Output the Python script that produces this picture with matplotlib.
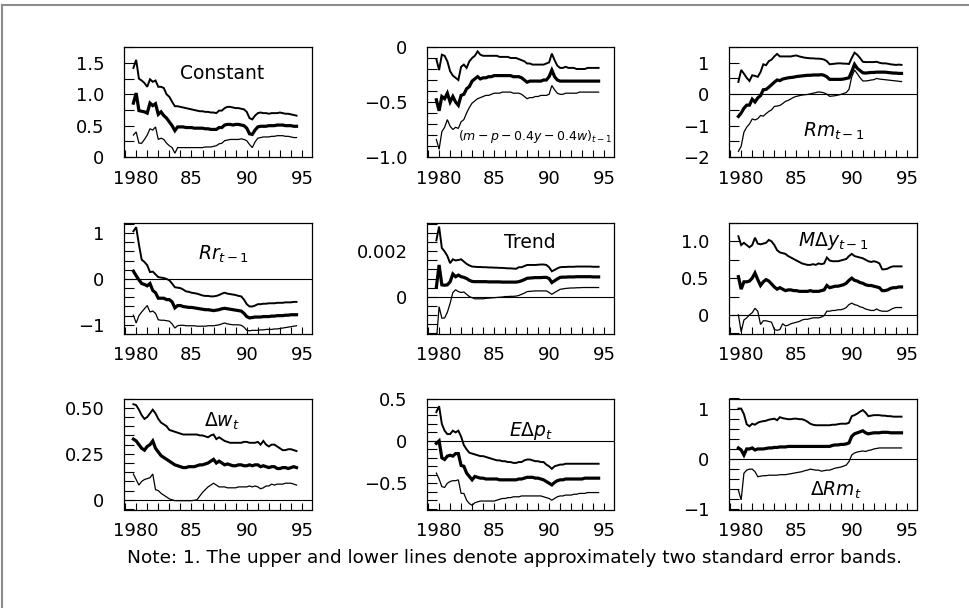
import numpy as np
import matplotlib
matplotlib.use("Agg")
import matplotlib.pyplot as plt
from matplotlib.ticker import MultipleLocator, FixedLocator
from matplotlib.lines import Line2D

plt.rcParams['font.family'] = ['DejaVu Sans']
plt.rcParams['mathtext.fontset'] = 'dejavusans'

# recursive estimates, quarterly 1979.75 .. 1994.5 (60 obs)
quarters = 1979.75 + 0.25 * np.arange(60)

# --- Constant
const_up = [1.42,
    1.55, 1.25, 1.22, 1.18,  1.12, 1.24, 1.20, 1.22,  1.12, 1.12, 1.10, 1.00,  0.96, 0.88, 0.81, 0.81,
    0.80, 0.79, 0.78, 0.77,  0.76, 0.75, 0.74, 0.73,  0.73, 0.72, 0.72, 0.71,  0.71, 0.70, 0.74, 0.74,
    0.78, 0.80, 0.80, 0.79,  0.78, 0.78, 0.77, 0.76,  0.72, 0.62, 0.60, 0.66,  0.70, 0.71, 0.70, 0.70,
    0.69, 0.70, 0.70, 0.70,  0.71, 0.70, 0.69, 0.69,  0.68, 0.67, 0.66]
const_mid = [0.86,
    1.02, 0.74, 0.73, 0.72,  0.70, 0.86, 0.82, 0.85,  0.68, 0.72, 0.66, 0.62,  0.56, 0.50, 0.42, 0.48,
    0.48, 0.48, 0.47, 0.47,  0.47, 0.46, 0.46, 0.46,  0.46, 0.45, 0.45, 0.44,  0.44, 0.44, 0.47, 0.47,
    0.51, 0.52, 0.52, 0.51,  0.52, 0.52, 0.51, 0.50,  0.46, 0.37, 0.36, 0.43,  0.48, 0.49, 0.49, 0.49,
    0.50, 0.50, 0.50, 0.51,  0.51, 0.51, 0.50, 0.50,  0.50, 0.49, 0.49]
const_lo = [0.35,
    0.40, 0.22, 0.22, 0.28,  0.35, 0.45, 0.43, 0.48,  0.28, 0.30, 0.28, 0.22,  0.18, 0.15, 0.06, 0.15,
    0.15, 0.15, 0.15, 0.15,  0.15, 0.15, 0.15, 0.15,  0.15, 0.16, 0.16, 0.16,  0.17, 0.18, 0.21, 0.22,
    0.26, 0.27, 0.28, 0.28,  0.28, 0.28, 0.29, 0.28,  0.26, 0.20, 0.15, 0.24,  0.30, 0.31, 0.32, 0.32,
    0.32, 0.33, 0.33, 0.34,  0.34, 0.34, 0.33, 0.33,  0.32, 0.31, 0.31]

# --- (m - p - 0.4y - 0.4w)_{t-1}
ecm_up = [-0.11,
    -0.21, -0.07, -0.08, -0.13,  -0.22, -0.26, -0.28, -0.30,  -0.18, -0.16, -0.19, -0.13,  -0.10, -0.08, -0.04, -0.07,
    -0.08, -0.08, -0.08, -0.08,  -0.08, -0.08, -0.09, -0.09,  -0.09, -0.09, -0.10, -0.10,  -0.10, -0.11, -0.12, -0.13,
    -0.15, -0.15, -0.16, -0.16,  -0.16, -0.16, -0.16, -0.15,  -0.14, -0.06, -0.12, -0.17,  -0.19, -0.19, -0.18, -0.19,
    -0.19, -0.19, -0.20, -0.20,  -0.20, -0.20, -0.19, -0.19,  -0.19, -0.19, -0.19]
ecm_mid = [-0.48,
    -0.58, -0.45, -0.47, -0.42,  -0.50, -0.45, -0.50, -0.53,  -0.44, -0.43, -0.38, -0.36,  -0.31, -0.29, -0.27, -0.29,
    -0.28, -0.28, -0.27, -0.27,  -0.26, -0.26, -0.26, -0.26,  -0.26, -0.26, -0.26, -0.27,  -0.27, -0.27, -0.28, -0.30,
    -0.32, -0.31, -0.31, -0.31,  -0.31, -0.31, -0.30, -0.30,  -0.27, -0.21, -0.27, -0.30,  -0.31, -0.31, -0.31, -0.31,
    -0.31, -0.31, -0.31, -0.31,  -0.31, -0.31, -0.31, -0.31,  -0.31, -0.31, -0.31]
ecm_lo = [-0.84,
    -0.93, -0.77, -0.73, -0.66,  -0.72, -0.75, -0.73, -0.74,  -0.68, -0.66, -0.60, -0.55,  -0.51, -0.49, -0.47, -0.46,
    -0.45, -0.44, -0.44, -0.43,  -0.42, -0.42, -0.42, -0.41,  -0.41, -0.41, -0.41, -0.42,  -0.42, -0.42, -0.43, -0.45,
    -0.47, -0.46, -0.46, -0.45,  -0.45, -0.44, -0.44, -0.44,  -0.43, -0.35, -0.39, -0.42,  -0.43, -0.43, -0.42, -0.42,
    -0.42, -0.42, -0.42, -0.41,  -0.41, -0.41, -0.41, -0.41,  -0.41, -0.41, -0.41]

# --- Rm_{t-1}
rm_up = [0.39,
    0.77, 0.65, 0.52, 0.42,  0.60, 0.58, 0.55, 0.70,  0.95, 0.92, 1.05, 1.10,  1.20, 1.28, 1.20, 1.20,
    1.20, 1.20, 1.20, 1.22,  1.23, 1.20, 1.18, 1.16,  1.15, 1.14, 1.14, 1.13,  1.13, 1.12, 1.10, 1.05,
    0.95, 0.96, 0.97, 0.98,  0.98, 0.97, 0.97, 0.96,  1.15, 1.32, 1.25, 1.15,  1.03, 1.02, 1.02, 1.02,
    1.02, 1.03, 1.00, 0.98,  0.98, 0.97, 0.95, 0.94,  0.93, 0.94, 0.93]
rm_mid = [-0.71,
    -0.60, -0.45, -0.35, -0.35,  -0.16, -0.25, -0.12, -0.05,  0.14, 0.15, 0.22, 0.30,  0.38, 0.45, 0.43, 0.48,
    0.50, 0.52, 0.53, 0.54,  0.56, 0.57, 0.58, 0.59,  0.60, 0.60, 0.61, 0.61,  0.61, 0.62, 0.60, 0.55,
    0.47, 0.47, 0.47, 0.47,  0.47, 0.48, 0.50, 0.52,  0.72, 0.95, 0.82, 0.75,  0.68, 0.67, 0.68, 0.69,
    0.69, 0.70, 0.70, 0.70,  0.70, 0.69, 0.68, 0.67,  0.67, 0.66, 0.66]
rm_lo = [-1.82,
    -1.66, -1.21, -1.05, -0.95,  -0.79, -0.82, -0.78, -0.68,  -0.70, -0.62, -0.55, -0.50,  -0.39, -0.38, -0.36, -0.30,
    -0.23, -0.20, -0.15, -0.10,  -0.07, -0.05, -0.03, -0.02,  -0.01, 0.01, 0.03, 0.05,  0.07, 0.06, 0.04, 0.00,
    -0.07, -0.06, -0.05, -0.03,  -0.01, 0.02, 0.05, 0.15,  0.55, 0.77, 0.65, 0.52,  0.42, 0.42, 0.43, 0.45,
    0.46, 0.50, 0.48, 0.47,  0.46, 0.45, 0.44, 0.43,  0.42, 0.41, 0.40]

# --- Rr_{t-1}
rr_up = [1.04,
    1.13, 0.75, 0.42, 0.37,  0.30, 0.15, 0.16, 0.10,  0.04, 0.03, 0.02, 0.00,  -0.03, -0.10, -0.18, -0.19,
    -0.20, -0.23, -0.27, -0.28,  -0.30, -0.31, -0.32, -0.34,  -0.36, -0.37, -0.37, -0.38,  -0.38, -0.37, -0.35, -0.32,
    -0.30, -0.32, -0.33, -0.34,  -0.35, -0.37, -0.38, -0.45,  -0.55, -0.60, -0.60, -0.58,  -0.55, -0.55, -0.54, -0.54,
    -0.53, -0.53, -0.53, -0.52,  -0.52, -0.52, -0.51, -0.51,  -0.51, -0.50, -0.50]
rr_mid = [0.17,
    0.07, -0.02, -0.10, -0.12,  -0.15, -0.10, -0.25, -0.30,  -0.42, -0.42, -0.42, -0.45,  -0.45, -0.50, -0.63, -0.58,
    -0.58, -0.60, -0.61, -0.62,  -0.62, -0.63, -0.64, -0.65,  -0.66, -0.67, -0.67, -0.68,  -0.69, -0.68, -0.67, -0.65,
    -0.64, -0.65, -0.66, -0.67,  -0.68, -0.69, -0.70, -0.75,  -0.82, -0.85, -0.84, -0.83,  -0.83, -0.83, -0.82, -0.82,
    -0.82, -0.81, -0.81, -0.80,  -0.80, -0.80, -0.79, -0.79,  -0.78, -0.78, -0.78]
rr_lo = [-0.79,
    -0.96, -0.80, -0.72, -0.65,  -0.58, -0.72, -0.70, -0.75,  -0.89, -0.90, -0.90, -0.91,  -0.92, -0.98, -1.07, -1.02,
    -1.01, -1.01, -1.02, -1.02,  -1.02, -1.02, -1.03, -1.03,  -1.03, -1.03, -1.02, -1.02,  -1.02, -1.01, -1.00, -0.98,
    -0.96, -0.98, -0.99, -1.00,  -1.00, -1.00, -1.01, -1.05,  -1.12, -1.13, -1.12, -1.12,  -1.12, -1.11, -1.11, -1.10,
    -1.10, -1.10, -1.09, -1.09,  -1.08, -1.07, -1.06, -1.05,  -1.04, -1.03, -1.02]

# --- Trend (in units of 0.001)
trend_up = [2.49,
    3.10, 2.15, 2.00, 1.80,  1.48, 1.65, 1.60, 1.62,  1.65, 1.55, 1.45, 1.38,  1.33, 1.32, 1.31, 1.31,
    1.30, 1.30, 1.29, 1.29,  1.28, 1.28, 1.27, 1.27,  1.26, 1.25, 1.25, 1.24,  1.23, 1.30, 1.30, 1.35,
    1.40, 1.40, 1.40, 1.40,  1.41, 1.42, 1.42, 1.40,  1.30, 1.12, 1.18, 1.25,  1.30, 1.31, 1.31, 1.32,
    1.32, 1.32, 1.33, 1.33,  1.33, 1.33, 1.33, 1.33,  1.32, 1.32, 1.32]
trend_mid = [0.41,
    1.40, 0.52, 0.50, 0.52,  0.65, 1.00, 0.88, 0.95,  0.88, 0.85, 0.80, 0.72,  0.67, 0.66, 0.66, 0.66,
    0.66, 0.66, 0.65, 0.65,  0.65, 0.65, 0.65, 0.64,  0.64, 0.64, 0.64, 0.64,  0.64, 0.66, 0.70, 0.75,
    0.81, 0.82, 0.83, 0.84,  0.84, 0.84, 0.85, 0.85,  0.80, 0.62, 0.70, 0.78,  0.85, 0.86, 0.86, 0.87,
    0.87, 0.87, 0.88, 0.88,  0.88, 0.88, 0.88, 0.88,  0.87, 0.87, 0.87]
trend_lo = [-2.00,
    -0.45, -0.96, -0.95, -0.70,  -0.30, 0.18, 0.30, 0.22,  0.18, 0.20, 0.10, 0.00,  -0.05, -0.10, -0.10, -0.10,
    -0.10, -0.08, -0.07, -0.06,  -0.05, -0.04, -0.03, -0.02,  0.00, 0.00, 0.01, 0.01,  0.02, 0.05, 0.10, 0.15,
    0.22, 0.23, 0.24, 0.25,  0.25, 0.25, 0.25, 0.25,  0.18, 0.10, 0.18, 0.25,  0.32, 0.34, 0.36, 0.37,
    0.38, 0.38, 0.39, 0.39,  0.40, 0.40, 0.40, 0.40,  0.40, 0.40, 0.40]

# --- M Delta y_{t-1}
mdy_up = [1.07,
    0.95, 0.98, 0.95, 0.92,  0.95, 1.05, 0.97, 0.96,  0.97, 0.98, 1.02, 1.00,  0.95, 0.88, 0.85, 0.84,
    0.83, 0.80, 0.78, 0.76,  0.74, 0.72, 0.70, 0.69,  0.68, 0.68, 0.69, 0.68,  0.70, 0.69, 0.70, 0.78,
    0.74, 0.73, 0.73, 0.73,  0.74, 0.75, 0.76, 0.80,  0.83, 0.80, 0.79, 0.78,  0.77, 0.75, 0.73, 0.72,
    0.73, 0.72, 0.70, 0.62,  0.62, 0.63, 0.65, 0.66,  0.66, 0.66, 0.66]
mdy_mid = [0.52,
    0.35, 0.45, 0.45, 0.46,  0.50, 0.57, 0.48, 0.40,  0.45, 0.48, 0.46, 0.42,  0.38, 0.35, 0.37, 0.35,
    0.33, 0.34, 0.34, 0.33,  0.33, 0.32, 0.32, 0.32,  0.32, 0.33, 0.32, 0.32,  0.32, 0.33, 0.34, 0.40,
    0.37, 0.38, 0.39, 0.39,  0.40, 0.41, 0.43, 0.47,  0.50, 0.47, 0.46, 0.44,  0.43, 0.41, 0.40, 0.40,
    0.39, 0.38, 0.37, 0.33,  0.33, 0.34, 0.36, 0.37,  0.37, 0.38, 0.38]
mdy_lo = [0.00,
    -0.23, -0.07, -0.04, 0.00,  0.03, 0.09, 0.05, -0.13,  -0.08, -0.08, -0.09, -0.10,  -0.20, -0.21, -0.20, -0.12,
    -0.15, -0.14, -0.12, -0.11,  -0.10, -0.09, -0.07, -0.06,  -0.06, -0.05, -0.04, -0.04,  -0.04, -0.03, -0.01, 0.05,
    0.05, 0.06, 0.06, 0.07,  0.07, 0.08, 0.10, 0.14,  0.16, 0.14, 0.13, 0.11,  0.10, 0.08, 0.07, 0.06,
    0.06, 0.08, 0.06, 0.05,  0.05, 0.05, 0.07, 0.09,  0.10, 0.10, 0.10]

# --- Delta w_t
dw_up = [0.52,
    0.515, 0.49, 0.46, 0.44,  0.45, 0.47, 0.49, 0.47,  0.44, 0.42, 0.41, 0.40,  0.38, 0.375, 0.37, 0.365,
    0.36, 0.355, 0.355, 0.355,  0.355, 0.355, 0.355, 0.35,  0.35, 0.345, 0.34, 0.35,  0.355, 0.33, 0.34, 0.33,
    0.32, 0.315, 0.31, 0.31,  0.31, 0.31, 0.31, 0.315,  0.315, 0.31, 0.31, 0.31,  0.315, 0.30, 0.32, 0.30,
    0.29, 0.30, 0.30, 0.29,  0.28, 0.27, 0.27, 0.275,  0.275, 0.27, 0.265]
dw_mid = [0.33,
    0.32, 0.30, 0.28, 0.27,  0.29, 0.30, 0.32, 0.28,  0.26, 0.24, 0.23, 0.22,  0.21, 0.20, 0.19, 0.185,
    0.18, 0.175, 0.175, 0.18,  0.18, 0.18, 0.185, 0.19,  0.19, 0.195, 0.20, 0.21,  0.22, 0.20, 0.21, 0.20,
    0.19, 0.195, 0.19, 0.185,  0.185, 0.19, 0.19, 0.185,  0.185, 0.19, 0.185, 0.19,  0.19, 0.18, 0.185, 0.18,
    0.175, 0.18, 0.18, 0.17,  0.17, 0.175, 0.175, 0.17,  0.175, 0.18, 0.175]
dw_lo = [0.14,
    0.11, 0.08, 0.10, 0.11,  0.115, 0.12, 0.14, 0.055,  0.05, 0.035, 0.025, 0.015,  0.005, 0.0, -0.005, -0.005,
    -0.005, -0.005, -0.005, -0.005,  -0.005, -0.003, 0.0, 0.02,  0.04, 0.055, 0.07, 0.08,  0.09, 0.08, 0.07, 0.07,
    0.07, 0.065, 0.065, 0.065,  0.065, 0.07, 0.07, 0.07,  0.07, 0.075, 0.07, 0.075,  0.07, 0.06, 0.065, 0.075,
    0.075, 0.085, 0.08, 0.085,  0.085, 0.085, 0.09, 0.09,  0.09, 0.085, 0.08]

# --- E Delta p_t
edp_up = [0.34,
    0.41, 0.20, 0.12, 0.08,  0.08, 0.12, 0.10, 0.12,  0.05, -0.05, -0.10, -0.14,  -0.15, -0.16, -0.17, -0.18,
    -0.18, -0.19, -0.20, -0.21,  -0.22, -0.23, -0.23, -0.24,  -0.24, -0.25, -0.25, -0.26,  -0.26, -0.25, -0.25, -0.23,
    -0.22, -0.22, -0.23, -0.24,  -0.24, -0.25, -0.25, -0.28,  -0.30, -0.33, -0.30, -0.29,  -0.28, -0.28, -0.27, -0.27,
    -0.27, -0.27, -0.27, -0.27,  -0.27, -0.27, -0.27, -0.27,  -0.27, -0.27, -0.27]
edp_mid = [-0.03,
    0.00, -0.20, -0.22, -0.18,  -0.17, -0.18, -0.15, -0.15,  -0.29, -0.30, -0.38, -0.42,  -0.46, -0.42, -0.43, -0.44,
    -0.44, -0.45, -0.45, -0.45,  -0.45, -0.45, -0.46, -0.46,  -0.46, -0.46, -0.46, -0.46,  -0.46, -0.45, -0.45, -0.44,
    -0.43, -0.43, -0.43, -0.44,  -0.44, -0.45, -0.46, -0.48,  -0.50, -0.52, -0.49, -0.47,  -0.46, -0.46, -0.45, -0.45,
    -0.45, -0.45, -0.45, -0.45,  -0.45, -0.44, -0.44, -0.44,  -0.44, -0.44, -0.44]
edp_lo = [-0.38,
    -0.45, -0.54, -0.55, -0.50,  -0.48, -0.47, -0.47, -0.46,  -0.62, -0.62, -0.70, -0.74,  -0.76, -0.73, -0.72, -0.71,
    -0.71, -0.71, -0.71, -0.71,  -0.71, -0.70, -0.69, -0.68,  -0.68, -0.67, -0.67, -0.66,  -0.66, -0.66, -0.65, -0.65,
    -0.65, -0.65, -0.65, -0.65,  -0.65, -0.65, -0.66, -0.67,  -0.68, -0.70, -0.68, -0.66,  -0.65, -0.65, -0.64, -0.64,
    -0.64, -0.63, -0.63, -0.62,  -0.62, -0.62, -0.61, -0.61,  -0.61, -0.61, -0.61]

# --- Delta Rm_t
drm_up = [1.00,
    1.00, 0.89, 0.69, 0.65,  0.70, 0.68, 0.72, 0.74,  0.75, 0.76, 0.78, 0.79,  0.80, 0.77, 0.83, 0.81,
    0.80, 0.79, 0.79, 0.80,  0.80, 0.79, 0.79, 0.77,  0.74, 0.70, 0.68, 0.67,  0.67, 0.67, 0.67, 0.67,
    0.67, 0.68, 0.68, 0.69,  0.70, 0.70, 0.70, 0.72,  0.85, 0.87, 0.90, 0.94,  0.97, 0.92, 0.85, 0.86,
    0.87, 0.87, 0.87, 0.86,  0.86, 0.85, 0.85, 0.84,  0.84, 0.84, 0.84]
drm_mid = [0.22,
    0.18, 0.08, 0.20, 0.20,  0.22, 0.18, 0.20, 0.20,  0.20, 0.21, 0.22, 0.22,  0.23, 0.23, 0.24, 0.24,
    0.24, 0.25, 0.25, 0.25,  0.25, 0.25, 0.25, 0.25,  0.25, 0.25, 0.25, 0.25,  0.25, 0.25, 0.25, 0.25,
    0.25, 0.27, 0.28, 0.28,  0.29, 0.29, 0.30, 0.32,  0.45, 0.50, 0.52, 0.54,  0.56, 0.52, 0.50, 0.51,
    0.52, 0.52, 0.52, 0.53,  0.53, 0.53, 0.52, 0.52,  0.52, 0.52, 0.52]
drm_lo = [-0.62,
    -0.81, -0.28, -0.22, -0.20,  -0.20, -0.25, -0.35, -0.34,  -0.33, -0.33, -0.32, -0.32,  -0.32, -0.32, -0.31, -0.31,
    -0.31, -0.30, -0.29, -0.28,  -0.27, -0.26, -0.25, -0.23,  -0.22, -0.20, -0.21, -0.22,  -0.22, -0.24, -0.23, -0.22,
    -0.22, -0.20, -0.18, -0.17,  -0.16, -0.14, -0.12, -0.05,  0.08, 0.12, 0.14, 0.15,  0.16, 0.15, 0.17, 0.18,
    0.20, 0.21, 0.22, 0.22,  0.22, 0.22, 0.22, 0.22,  0.22, 0.22, 0.22]

xtick_years = [1980, 1985, 1990, 1995]
xtick_labels = ['1980', '85', '90', '95']

note = "Note: 1. The upper and lower lines denote approximately two standard error bands."

# panel: (up, mid, lo, ylim, minor step, label ticks, label text, title, title x, title y, title size, zero line)
panels = [
    (const_up, const_mid, const_lo, (0, 1.755), 0.25, [0, 0.5, 1.0, 1.5], ['0', '0.5', '1.0', '1.5'],
     'Constant', 0.52, 0.76, 13.5, False),
    (ecm_up, ecm_mid, ecm_lo, (-1.0, 0.0), 0.1, [-1.0, -0.5, 0], ['\u22121.0', '\u22120.5', '0'],
     r'$(m-p-0.4y-0.4w)_{t-1}$', 0.58, 0.19, 9, False),
    (rm_up, rm_mid, rm_lo, (-2.0, 1.5), 0.5, [-2, -1, 0, 1], ['\u22122', '\u22121', '0', '1'],
     r'$Rm_{t-1}$', 0.56, 0.23, 13.5, True),
    (rr_up, rr_mid, rr_lo, (-1.2, 1.22), 0.2, [-1, 0, 1], ['\u22121', '0', '1'],
     r'$Rr_{t-1}$', 0.53, 0.72, 13.5, True),
    (np.array(trend_up) * 1e-3, np.array(trend_mid) * 1e-3, np.array(trend_lo) * 1e-3,
     (-0.00166, 0.00326), 0.0004, [0, 0.002], ['0', '0.002'],
     'Trend', 0.55, 0.82, 13.5, True),
    (mdy_up, mdy_mid, mdy_lo, (-0.26, 1.25), 0.25, [0, 0.5, 1.0], ['0', '0.5', '1.0'],
     r'$M\Delta y_{t-1}$', 0.555, 0.84, 13.5, True),
    (dw_up, dw_mid, dw_lo, (-0.053, 0.551), 0.05, [0, 0.25, 0.5], ['0', '0.25', '0.50'],
     r'$\Delta w_t$', 0.52, 0.79, 13.5, True),
    (edp_up, edp_mid, edp_lo, (-0.81, 0.5), 0.1, [-0.5, 0, 0.5], ['\u22120.5', '0', '0.5'],
     r'$E\Delta p_t$', 0.555, 0.71, 13.5, True),
    (drm_up, drm_mid, drm_lo, (-1.0, 1.2), 0.2, [-1, 0, 1], ['\u22121', '0', '1'],
     r'$\Delta Rm_t$', 0.57, 0.17, 13.5, True),
]

W, H = 970, 608
fig = plt.figure(figsize=(W / 100., H / 100.), dpi=100)

col_left = [124, 427, 729]
col_width = [188, 187, 188]
row_top = [47, 223, 398.5]
row_height = [110, 111, 111]

for k, p in enumerate(panels):
    up, mid, lo, ylim, ystep, yt, ytl, title, tx, ty, tsize, zline = p
    r, c = k // 3, k % 3
    ax = fig.add_axes([col_left[c] / W, 1 - (row_top[r] + row_height[r]) / H,
                       col_width[c] / W, row_height[r] / H])
    if zline:
        ax.axhline(0, color='black', lw=0.8, zorder=1)
    ax.plot(quarters, up, color='black', lw=1.4, solid_joinstyle='miter')
    ax.plot(quarters, mid, color='black', lw=2.3, solid_joinstyle='miter')
    ax.plot(quarters, lo, color='black', lw=0.9, solid_joinstyle='miter')
    ax.set_xlim(1978.9, 1995.9)
    ax.set_ylim(*ylim)
    ax.xaxis.set_major_locator(FixedLocator(xtick_years))
    ax.set_xticklabels(xtick_labels)
    ax.xaxis.set_minor_locator(MultipleLocator(1))
    ax.yaxis.set_major_locator(FixedLocator(yt))
    ax.set_yticklabels(ytl)
    ax.yaxis.set_minor_locator(MultipleLocator(ystep))
    ax.tick_params(axis='x', which='both', direction='in', length=5, width=0.8,
                   labelsize=13, pad=9)
    ax.tick_params(axis='y', which='both', direction='in', length=7, width=0.8,
                   labelsize=13, pad=14)
    for s in ax.spines.values():
        s.set_linewidth(0.9)
    ax.text(tx, ty, title, transform=ax.transAxes, ha='center', va='center',
            fontsize=tsize)

fig.text(0.53, 1 - 558. / H, note, ha='center', va='center', fontsize=13.3)

# thin grey frame round the figure (top and left edges visible)
fig.add_artist(Line2D([2. / W, 1.0], [1 - 5. / H, 1 - 5. / H], transform=fig.transFigure,
                      color='#8c8c8c', lw=1.5))
fig.add_artist(Line2D([2. / W, 2. / W], [0.0, 1 - 5. / H], transform=fig.transFigure,
                      color='#8c8c8c', lw=1.5))

fig.savefig('out.png', dpi=100)
